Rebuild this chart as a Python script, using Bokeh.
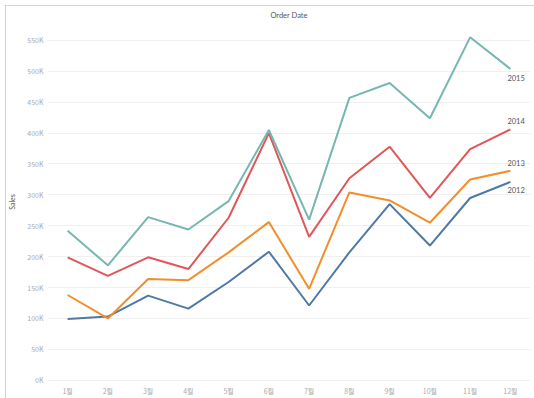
from bokeh.plotting import figure
from bokeh.models import Range1d, FactorRange, CustomJSTickFormatter, FixedTicker
from bokeh.embed import file_html
from bokeh.resources import INLINE
from bokeh.core.properties import value

months = ["1월", "2월", "3월", "4월", "5월", "6월", "7월", "8월", "9월", "10월", "11월", "12월"]
years = ["2012", "2013", "2014", "2015"]
sales_2012 = [99000, 103000, 137000, 116000, 159000, 208000, 121000, 207000, 285000, 218000, 295000, 321000]
sales_2013 = [138000, 100000, 164000, 162000, 207000, 256000, 148000, 304000, 291000, 255000, 325000, 339000]
sales_2014 = [199000, 169000, 199000, 180000, 263000, 400000, 232000, 327000, 378000, 295000, 374000, 406000]
sales_2015 = [242000, 186000, 264000, 244000, 290000, 405000, 260000, 457000, 481000, 424000, 555000, 504000]
y_ticks = [0, 50000, 100000, 150000, 200000, 250000, 300000, 350000, 400000, 450000, 500000, 550000]

series = [sales_2012, sales_2013, sales_2014, sales_2015]
colors = ["#4e79a7", "#f28e2b", "#e15759", "#76b7b2"]
label_dy = [-8, 8, 8, -9]  # pixel nudges for end labels

p = figure(width=534, height=398, x_range=FactorRange(*months, range_padding=0),
           y_range=Range1d(-2000, 579000), output_backend="svg", toolbar_location=None,
           title="Order Date")
p.min_border_left = 47
p.min_border_right = 4
p.min_border_top = 22
p.min_border_bottom = 12
p.border_fill_color = None
p.background_fill_color = "white"
p.styles = {
    "background": "linear-gradient(#d4d4d4,#d4d4d4) 5px 5px / 100% 1px no-repeat, "
                  "linear-gradient(#d4d4d4,#d4d4d4) 5px 5px / 1px 100% no-repeat, white"
}
p.title.align = "center"
p.title.text_font = "Lato"
p.title.text_font_size = "7.5px"
p.title.text_font_style = "normal"
p.title.text_color = "#555555"
p.title.standoff = 6

for vals, col, yr, dy in zip(series, colors, years, label_dy):
    p.line(months, vals, line_color=col, line_width=2)
    p.text(x=[months[-1]], y=[vals[-1]], text=[yr], x_offset=-3, y_offset=-dy,
           text_font=value("Lato"), text_font_size="7.5px", text_color="#555555",
           text_baseline="middle", text_align="left")

p.outline_line_color = None
p.xgrid.grid_line_color = None
p.ygrid.grid_line_color = "#f0f0f0"
p.ygrid.grid_line_width = 1

p.yaxis.ticker = FixedTicker(ticks=y_ticks)
p.yaxis.formatter = CustomJSTickFormatter(code="return (tick/1000) + 'K';")
p.yaxis.axis_label = "Sales"
p.yaxis.axis_label_text_font = "Lato"
p.yaxis.axis_label_text_font_size = "7px"
p.yaxis.axis_label_text_font_style = "normal"
p.yaxis.axis_label_text_color = "#555555"
p.yaxis.axis_label_standoff = 8

for ax in [p.xaxis[0], p.yaxis[0]]:
    ax.axis_line_color = None
    ax.major_tick_line_color = None
    ax.minor_tick_line_color = None
    ax.major_tick_out = 0
    ax.major_tick_in = 0
    ax.minor_tick_out = 0
    ax.minor_tick_in = 0
    ax.major_label_text_font = "Noto Sans CJK KR"
    ax.major_label_text_font_size = "7px"
    ax.major_label_text_color = "#aaaaaa"
    ax.major_label_standoff = 4

open("out.html", "w").write(file_html(p, INLINE))
